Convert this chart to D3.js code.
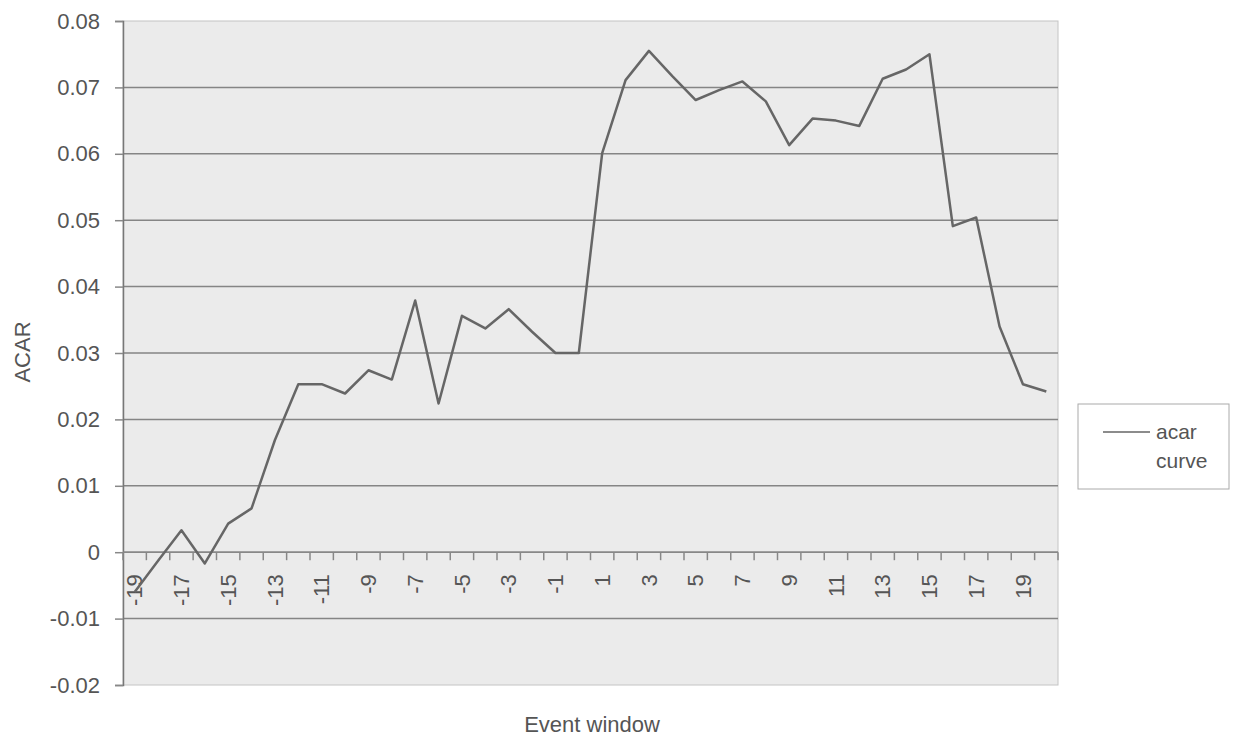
<!DOCTYPE html>
<html>
<head>
<meta charset="utf-8">
<script src="https://cdn.jsdelivr.net/npm/d3@7"></script>
<style>
  body { margin: 0; background: #fff; }
  text { font-family: "Liberation Sans", Arial, sans-serif; fill: #555; }
</style>
</head>
<body>
<div id="grafico"></div>
<script>
const events = [-19, -18, -17, -16, -15, -14, -13, -12, -11, -10,
                -9, -8, -7, -6, -5, -4, -3, -2, -1, 0,
                1, 2, 3, 4, 5, 6, 7, 8, 9, 10,
                11, 12, 13, 14, 15, 16, 17, 18, 19, 20];
const acar = [-0.0060, -0.0013, 0.0033, -0.0017, 0.0043, 0.0066, 0.0169, 0.0253, 0.0253, 0.0239,
              0.0274, 0.0260, 0.0379, 0.0224, 0.0356, 0.0337, 0.0366, 0.0332, 0.0300, 0.0300,
              0.0601, 0.0711, 0.0755, 0.0717, 0.0681, 0.0696, 0.0709, 0.0679, 0.0613, 0.0653,
              0.0650, 0.0642, 0.0713, 0.0727, 0.0750, 0.0491, 0.0504, 0.0340, 0.0253, 0.0242];
const yTicks = [-0.02, -0.01, 0, 0.01, 0.02, 0.03, 0.04, 0.05, 0.06, 0.07, 0.08];
const seriesName = ['acar', 'curve'];

const margin = { top: 21, left: 123, right: 177, bottom: 52 };
const width  = 1235 - margin.left - margin.right;
const height = 737 - margin.top - margin.bottom;

const svg = d3.select("#grafico")
              .append("svg")
              .attr("width", 1235)
              .attr("height", 737);

const g = svg.append('g')
             .attr('transform', `translate(${margin.left}, ${margin.top})`);

const xScale = d3.scaleBand()
                 .domain(events)
                 .range([0, width]);

const yScale = d3.scaleLinear()
                 .domain([-0.02, 0.08])
                 .range([height, 0]);

// plot area
g.append('rect')
 .attr('width', width)
 .attr('height', height)
 .attr('fill', '#ebebeb')
 .attr('stroke', '#c4c4c4')
 .attr('stroke-width', 1);

// gridlines
g.selectAll('.grid')
 .data(yTicks.filter(d => d !== 0.08 && d !== -0.02))
 .enter()
 .append('line')
 .attr('x1', 0)
 .attr('x2', width)
 .attr('y1', d => yScale(d))
 .attr('y2', d => yScale(d))
 .attr('stroke', '#858585')
 .attr('stroke-width', 1.5);

// y axis
const yAxis = d3.axisLeft(yScale)
                .tickValues(yTicks)
                .tickFormat(d => d === 0 ? '0' : d3.format('.2f')(d).replace('−', '-'))
                .tickSize(8)
                .tickPadding(15);

const yG = g.append('g').call(yAxis);
yG.select('.domain').attr('stroke', '#777').attr('stroke-width', 1.5);
yG.selectAll('.tick line').attr('stroke', '#888').attr('stroke-width', 1.5);
yG.selectAll('text').attr('font-size', '22px').attr('fill', '#555');

// x axis at zero, ticks between categories
const xG = g.append('g')
            .attr('transform', `translate(0, ${yScale(0)})`);

xG.append('line')
  .attr('x1', 0)
  .attr('x2', width)
  .attr('stroke', '#888')
  .attr('stroke-width', 1.5);

xG.selectAll('.xtick')
  .data(events.concat(['end']))
  .enter()
  .append('line')
  .attr('x1', d => d === 'end' ? width : xScale(d))
  .attr('x2', d => d === 'end' ? width : xScale(d))
  .attr('y1', 0)
  .attr('y2', 8)
  .attr('stroke', '#888')
  .attr('stroke-width', 1.5);

xG.selectAll('.xlabel')
  .data(events.filter(d => Math.abs(d % 2) === 1))
  .enter()
  .append('text')
  .attr('transform', d => `translate(${xScale(d) + xScale.bandwidth() / 2}, 22) rotate(-90)`)
  .attr('text-anchor', 'end')
  .attr('dy', '0.35em')
  .attr('font-size', '22px')
  .text(d => d);

// line
const line = d3.line()
               .x((d, i) => xScale(events[i]) + xScale.bandwidth() / 2)
               .y(d => yScale(d));

g.append('path')
 .datum(acar)
 .attr('d', line)
 .attr('fill', 'none')
 .attr('stroke', '#666')
 .attr('stroke-width', 2.5)
 .attr('stroke-linejoin', 'round');

// axis titles
svg.append('text')
   .attr('transform', `translate(30, 352) rotate(-90)`)
   .attr('text-anchor', 'middle')
   .attr('font-size', '22px')
   .text('ACAR');

svg.append('text')
   .attr('x', 592)
   .attr('y', 732)
   .attr('text-anchor', 'middle')
   .attr('font-size', '22px')
   .text('Event window');

// legend
const legend = svg.append('g')
                  .attr('transform', 'translate(1078, 404)');

legend.append('rect')
      .attr('width', 151)
      .attr('height', 85)
      .attr('fill', '#fff')
      .attr('stroke', '#aaa')
      .attr('stroke-width', 1);

legend.append('line')
      .attr('x1', 25)
      .attr('x2', 72)
      .attr('y1', 28)
      .attr('y2', 28)
      .attr('stroke', '#666')
      .attr('stroke-width', 1.5);

legend.selectAll('.leg')
      .data(seriesName)
      .enter()
      .append('text')
      .attr('x', 78)
      .attr('y', (d, i) => 35 + i * 29)
      .attr('font-size', '21px')
      .text(d => d);
</script>
</body>
</html>
